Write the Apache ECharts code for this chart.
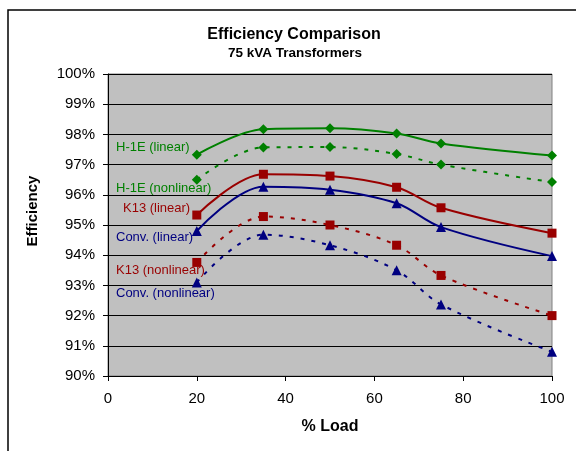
<!DOCTYPE html>
<html>
<head>
<meta charset="utf-8">
<script src="https://cdn.jsdelivr.net/npm/echarts@6/dist/echarts.min.js"></script>
<style>html,body{margin:0;padding:0;background:#fff}#c{width:576px;height:451px}</style>
</head>
<body>
<div id="c"></div>
<script>
var loads = [20, 35, 50, 65, 75, 100];
var h1eLinear    = [97.33, 98.17, 98.20, 98.03, 97.70, 97.30];
var h1eNonlinear = [96.50, 97.57, 97.58, 97.35, 97.00, 96.42];
var k13Linear    = [95.33, 96.68, 96.62, 96.25, 95.57, 94.73];
var convLinear   = [94.80, 96.27, 96.17, 95.72, 94.93, 93.97];
var k13Nonlinear = [93.76, 95.28, 95.00, 94.33, 93.33, 92.00];
var convNonlinear= [93.10, 94.68, 94.33, 93.50, 92.37, 90.80];
var seriesNames = ['H-1E (linear)', 'H-1E (nonlinear)', 'K13 (linear)', 'Conv. (linear)', 'K13 (nonlinear)', 'Conv. (nonlinear)'];

var GREEN = '#008000', RED = '#990000', BLUE = '#000080';
var FONT = 'Liberation Sans, Arial, sans-serif';

function pairs(vals){ return loads.map(function(x,i){ return [x, vals[i]]; }); }
function mk(name, vals, color, symbol, size, dashed){
  return {
    name: name, type: 'line', data: pairs(vals), smooth: 0.35,
    symbol: symbol, symbolSize: size,
    itemStyle: {color: color},
    lineStyle: {color: color, width: 2, type: dashed ? [4, 7] : 'solid'},
    z: 3
  };
}
var chart = echarts.init(document.getElementById('c'), null, {renderer: 'canvas'});
chart.setOption({
  animation: false,
  backgroundColor: '#fff',
  grid: {left: 108, top: 74, right: 24, bottom: 75, show: true, backgroundColor: '#C0C0C0', borderColor: '#808080', borderWidth: 1},
  xAxis: {
    type: 'value', min: 0, max: 100, interval: 20,
    axisLine: {show: true, lineStyle: {color: '#000', width: 1}},
    axisTick: {show: true, inside: false, length: 5, lineStyle: {color: '#000'}},
    axisLabel: {color: '#000', fontSize: 15, fontFamily: FONT, margin: 15},
    splitLine: {show: false}
  },
  yAxis: {
    type: 'value', min: 90, max: 100, interval: 1,
    axisLine: {show: true, lineStyle: {color: '#000', width: 1}},
    axisTick: {show: true, inside: false, length: 5, lineStyle: {color: '#000'}},
    axisLabel: {color: '#000', fontSize: 15, fontFamily: FONT, margin: 13, formatter: '{value}%'},
    splitLine: {show: true, lineStyle: {color: '#000', width: 1}}
  },
  series: [
    mk(seriesNames[0], h1eLinear, GREEN, 'diamond', 10, false),
    mk(seriesNames[1], h1eNonlinear, GREEN, 'diamond', 10, true),
    mk(seriesNames[2], k13Linear, RED, 'rect', 9, false),
    mk(seriesNames[3], convLinear, BLUE, 'triangle', 10, false),
    mk(seriesNames[4], k13Nonlinear, RED, 'rect', 9, true),
    mk(seriesNames[5], convNonlinear, BLUE, 'triangle', 10, true)
  ],
  graphic: [
    {type: 'rect', shape: {x: 8, y: 10, width: 600, height: 500}, style: {fill: 'none', stroke: '#000', lineWidth: 1.5}, z: 0, silent: true},
    {type: 'text', x: 294, y: 35, style: {text: 'Efficiency Comparison', font: 'bold 16px ' + FONT, fill: '#000', textAlign: 'center', textVerticalAlign: 'middle'}},
    {type: 'text', x: 295, y: 53, style: {text: '75 kVA Transformers', font: 'bold 13.5px ' + FONT, fill: '#000', textAlign: 'center', textVerticalAlign: 'middle'}},
    {type: 'text', x: 330, y: 427, style: {text: '% Load', font: 'bold 16px ' + FONT, fill: '#000', textAlign: 'center', textVerticalAlign: 'middle'}},
    {type: 'text', x: 33, y: 211, rotation: Math.PI / 2, style: {text: 'Efficiency', font: 'bold 15px ' + FONT, fill: '#000', textAlign: 'center', textVerticalAlign: 'middle'}},
    {type: 'text', x: 116, y: 147, z: 10, style: {text: seriesNames[0], font: '13px ' + FONT, fill: GREEN, textVerticalAlign: 'middle'}},
    {type: 'text', x: 116, y: 188, z: 10, style: {text: seriesNames[1], font: '13px ' + FONT, fill: GREEN, textVerticalAlign: 'middle'}},
    {type: 'text', x: 123, y: 208, z: 10, style: {text: seriesNames[2], font: '13px ' + FONT, fill: RED, textVerticalAlign: 'middle'}},
    {type: 'text', x: 116, y: 237, z: 10, style: {text: seriesNames[3], font: '13px ' + FONT, fill: BLUE, textVerticalAlign: 'middle'}},
    {type: 'text', x: 116, y: 270, z: 10, style: {text: seriesNames[4], font: '13px ' + FONT, fill: RED, textVerticalAlign: 'middle'}},
    {type: 'text', x: 116, y: 293, z: 10, style: {text: seriesNames[5], font: '13px ' + FONT, fill: BLUE, textVerticalAlign: 'middle'}}
  ]
});
</script>
</body>
</html>
